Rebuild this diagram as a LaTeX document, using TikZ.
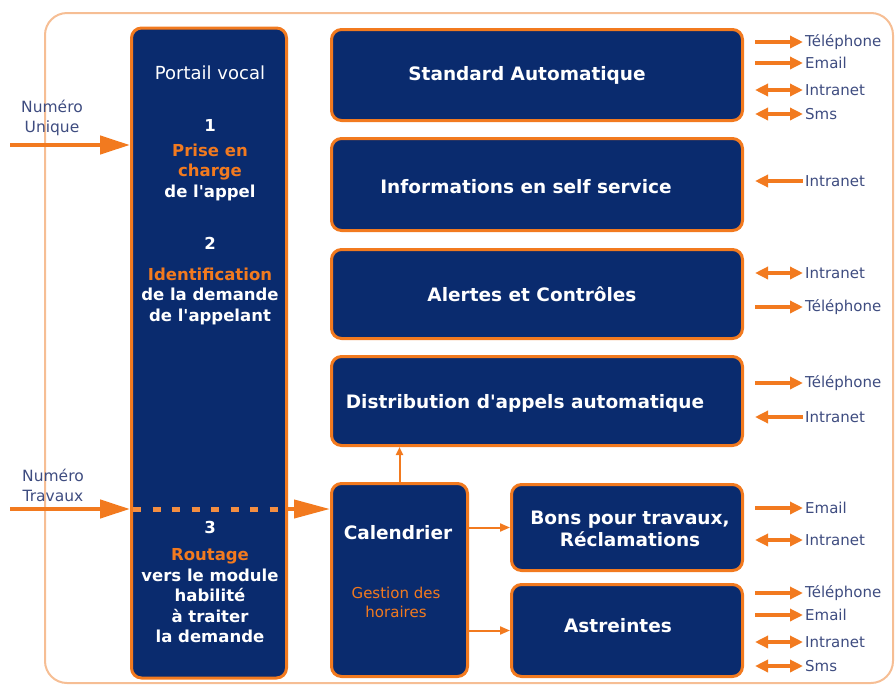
\documentclass[tikz,border=0pt]{standalone}
\usepackage{fontspec}
\setmainfont{DejaVu Sans}
\usepackage{xcolor}
\usetikzlibrary{arrows.meta,positioning}

\definecolor{navy}{HTML}{0A2B6E}
\definecolor{orangeline}{HTML}{F27A1F}
\definecolor{framepeach}{HTML}{F6BE94}
\definecolor{labelblue}{HTML}{3E4C80}

\tikzset{
  module/.style={rectangle, draw=orangeline, line width=3pt, fill=navy, rounded corners=10pt,
    text=white, font=\bfseries\fontsize{18.5}{22}\selectfont, align=center, inner sep=0pt},
  modtitle/.style={text=white, font=\bfseries\fontsize{18.5}{22}\selectfont, align=center, inner sep=0pt},
  portailtext/.style={text=white, font=\bfseries\fontsize{16.5}{20.5}\selectfont, align=center, inner sep=0pt},
  numlabel/.style={text=labelblue, font=\fontsize{15.5}{20}\selectfont, align=center, inner sep=0pt},
  channel/.style={anchor=west, text=labelblue, font=\fontsize{15}{16}\selectfont, inner sep=0pt},
  bigarrow/.style={draw=orangeline, line width=4.5pt, -{Triangle[length=30pt,width=18pt]}},
  chanarrow/.style={draw=orangeline, line width=4pt, >={Triangle[length=13pt,width=12pt]}},
  thinarrow/.style={draw=orangeline, line width=2pt, -{Triangle[length=10pt,width=8pt]}},
}

\begin{document}
\begin{tikzpicture}[x=1pt, y=-1pt]

    \useasboundingbox (0,0) rectangle (895,686);

    % Frame
    \draw[framepeach, line width=2pt, rounded corners=22pt] (45,13) rectangle (893,683);

    % Portail vocal
    \node[module, minimum width=155pt, minimum height=650pt] (portail) at (209,353) {};
    \node[text=white, font=\fontsize{18}{22}\selectfont, inner sep=0pt] (titre) at (210,73) {Portail vocal};
    \node[portailtext] (num1) at (210,125) {1};
    \node[portailtext] (step1) at (210,172) {\textcolor{orangeline}{Prise en}\\\textcolor{orangeline}{charge}\\de l\textquotesingle appel};
    \node[portailtext] (num2) at (210,243) {2};
    \node[portailtext] (step2) at (210,296) {\textcolor{orangeline}{Identification}\\de la demande\\de l\textquotesingle appelant};
    \node[portailtext] (num3) at (210,527) {3};
    \node[portailtext] (step3) at (210,596) {\textcolor{orangeline}{Routage}\\vers le module\\habilit\'e\\\`a traiter\\la demande};

    % Modules
    \node[module, minimum width=411pt, minimum height=91pt] (standard) at (537,75) {};
    \node[module, minimum width=411pt, minimum height=92pt] (selfservice) at (537,184.5) {};
    \node[module, minimum width=411pt, minimum height=89pt] (alertes) at (537,294) {};
    \node[module, minimum width=411pt, minimum height=89pt] (distribution) at (537,401) {};
    \node[modtitle] (stdtitre) at ([xshift=-10pt]standard.center) {Standard Automatique};
    \node[modtitle] (selftitre) at ([xshift=-11pt,yshift=-2pt]selfservice.center) {Informations en self service};
    \node[modtitle] (alrtitre) at ([xshift=-5pt]alertes.center) {Alertes et Contr\^oles};
    \node[modtitle] (distitre) at ([xshift=-12pt,yshift=-2pt]distribution.center) {Distribution d\textquotesingle appels automatique};
    \node[module, minimum width=136pt, minimum height=193pt] (calendrier) at (399.5,580) {};
    \node[modtitle] (caltitre) at (398,533) {Calendrier};
    \node[text=orangeline, font=\fontsize{15}{19}\selectfont, align=center, inner sep=0pt] (horaires) at (396,602) {Gestion des\\horaires};
    \node[module, minimum width=231pt, minimum height=86pt] (bons) at (627,527.5) {};
    \node[modtitle] (bonstitre) at ([xshift=3pt,yshift=-1pt]bons.center) {Bons pour travaux,\\R\'eclamations};
    \node[module, minimum width=231pt, minimum height=92pt] (astreintes) at (627,630.5) {};
    \node[modtitle] (asttitre) at ([xshift=-9pt,yshift=5pt]astreintes.center) {Astreintes};

    % Entrees
    \coordinate (unique) at (10,145);
    \coordinate (travaux) at (10,509);
    \node[numlabel] (lblunique) at (52,118) {Num\'ero\\Unique};
    \node[numlabel] (lbltravaux) at (53,485) {Num\'ero\\Travaux};
    \draw[bigarrow] (unique) -- (unique -| portail.west);
    \draw[bigarrow] (travaux) -- (travaux -| portail.west);
    \draw[orangeline!85!white, line width=5pt, dash pattern=on 8pt off 11.5pt] ([xshift=3pt]travaux -| portail.west) -- ([xshift=-4pt]travaux -| portail.east);
    \draw[draw=orangeline, line width=4pt, -{Triangle[length=36pt,width=18pt]}] (travaux -| portail.east) -- (travaux -| calendrier.west);

    % Calendrier vers les modules
    \draw[thinarrow, -{Triangle[length=8pt,width=7pt]}] (calendrier.north) -- (calendrier.north |- distribution.south);
    \draw[thinarrow] (calendrier.east |- bons.west) -- (bons.west);
    \draw[thinarrow] (calendrier.east |- astreintes.west) -- (astreintes.west);

    % Canaux - standard
    \node[channel] (stdtel) at (805,42) {T\'el\'ephone};
    \node[channel] (stdmail) at (805,63) {Email};
    \node[channel] (stdnet) at (805,90) {Intranet};
    \node[channel] (stdsms) at (805,114) {Sms};
    \draw[chanarrow, ->] ([xshift=-50pt]stdtel.west) -- ([xshift=-2pt]stdtel.west);
    \draw[chanarrow, ->] ([xshift=-50pt]stdmail.west) -- ([xshift=-2pt]stdmail.west);
    \draw[chanarrow, <->] ([xshift=-50pt]stdnet.west) -- ([xshift=-2pt]stdnet.west);
    \draw[chanarrow, <->] ([xshift=-50pt]stdsms.west) -- ([xshift=-2pt]stdsms.west);

    % Canaux - self service
    \node[channel] (selfnet) at (805,181) {Intranet};
    \draw[chanarrow, <-] ([xshift=-50pt]selfnet.west) -- ([xshift=-2pt]selfnet.west);

    % Canaux - alertes
    \node[channel] (alrnet) at (805,273) {Intranet};
    \node[channel] (alrtel) at (805,307) {T\'el\'ephone};
    \draw[chanarrow, <->] ([xshift=-50pt]alrnet.west) -- ([xshift=-2pt]alrnet.west);
    \draw[chanarrow, ->] ([xshift=-50pt]alrtel.west) -- ([xshift=-2pt]alrtel.west);

    % Canaux - distribution
    \node[channel] (distel) at (805,383) {T\'el\'ephone};
    \node[channel] (disnet) at (805,417) {Intranet};
    \draw[chanarrow, ->] ([xshift=-50pt]distel.west) -- ([xshift=-2pt]distel.west);
    \draw[chanarrow, <-] ([xshift=-50pt]disnet.west) -- ([xshift=-2pt]disnet.west);

    % Canaux - bons
    \node[channel] (bonmail) at (805,508) {Email};
    \node[channel] (bonnet) at (805,540) {Intranet};
    \draw[chanarrow, ->] ([xshift=-50pt]bonmail.west) -- ([xshift=-2pt]bonmail.west);
    \draw[chanarrow, <->] ([xshift=-50pt]bonnet.west) -- ([xshift=-2pt]bonnet.west);

    % Canaux - astreintes
    \node[channel] (asttel) at (805,593) {T\'el\'ephone};
    \node[channel] (astmail) at (805,615) {Email};
    \node[channel] (astnet) at (805,642) {Intranet};
    \node[channel] (astsms) at (805,666) {Sms};
    \draw[chanarrow, ->] ([xshift=-50pt]asttel.west) -- ([xshift=-2pt]asttel.west);
    \draw[chanarrow, ->] ([xshift=-50pt]astmail.west) -- ([xshift=-2pt]astmail.west);
    \draw[chanarrow, <->] ([xshift=-50pt]astnet.west) -- ([xshift=-2pt]astnet.west);
    \draw[chanarrow, <->] ([xshift=-50pt]astsms.west) -- ([xshift=-2pt]astsms.west);

  \end{tikzpicture}
\end{document}
